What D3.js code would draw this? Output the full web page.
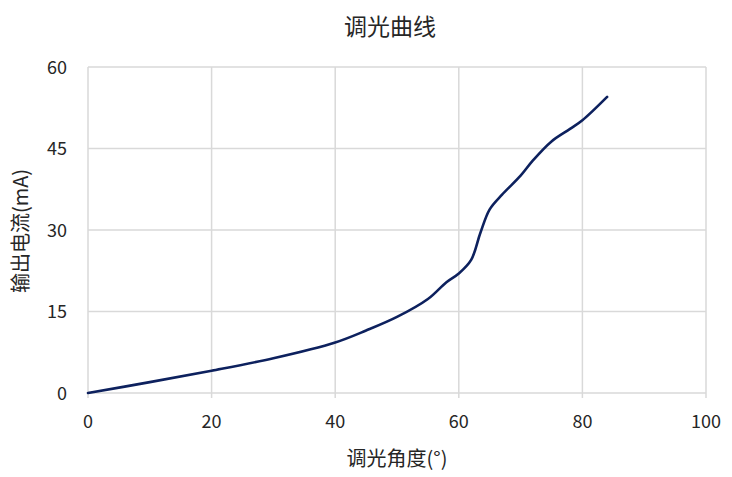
<!DOCTYPE html>
<html><head><meta charset="utf-8">
<script src="https://cdn.jsdelivr.net/npm/d3@7"></script>
<style>body{margin:0;background:#fff}svg{display:block}text{font-family:"Noto Sans CJK SC","Noto Sans",sans-serif;fill:#262626}</style>
</head><body>
<svg id="c" width="732" height="477"></svg>
<script>
const angles = [0, 10, 20, 30, 40, 45, 50, 55, 58, 60, 62, 63.5, 65, 67, 70, 72, 75, 78, 80, 84];
const currents = [0, 2.0, 4.1, 6.4, 9.3, 11.5, 14.0, 17.3, 20.4, 22.0, 24.5, 29.5, 33.8, 36.5, 40.0, 42.8, 46.3, 48.6, 50.2, 54.5];
const xTicks = [0, 20, 40, 60, 80, 100];
const yTicks = [0, 15, 30, 45, 60];
const title = "调光曲线";
const xTitle = "调光角度(°)";
const yTitle = "输出电流(mA)";

const svg = d3.select("#c");
const L = 88, R = 706, T = 67, B = 393;
const x = d3.scaleLinear().domain([0, 100]).range([L, R]);
const y = d3.scaleLinear().domain([0, 60]).range([B, T]);

const g = svg.append("g");
g.selectAll(".vg").data(xTicks).enter().append("line")
  .attr("x1", d => x(d)).attr("x2", d => x(d)).attr("y1", T).attr("y2", B + 5)
  .attr("stroke", "#d9d9d9").attr("stroke-width", 1.5);
g.selectAll(".hg").data(yTicks).enter().append("line")
  .attr("x1", L).attr("x2", R).attr("y1", d => y(d)).attr("y2", d => y(d))
  .attr("stroke", "#d9d9d9").attr("stroke-width", 1.5);

g.selectAll(".xt").data(xTicks).enter().append("text")
  .attr("x", d => x(d)).attr("y", 428).attr("text-anchor", "middle")
  .attr("font-size", 18).text(d => d);
g.selectAll(".yt").data(yTicks).enter().append("text")
  .attr("x", 67).attr("y", d => y(d) + 6.5).attr("text-anchor", "end")
  .attr("font-size", 18).text(d => d);

const pts = angles.map((a, i) => [a, currents[i]]);
const line = d3.line().x(d => x(d[0])).y(d => y(d[1])).curve(d3.curveCatmullRom.alpha(0.5));
g.append("path").datum(pts).attr("d", line).attr("fill", "none")
  .attr("stroke", "#0d215e").attr("stroke-width", 2.6).attr("stroke-linecap", "round");

svg.append("text").attr("x", 390).attr("y", 35).attr("text-anchor", "middle")
  .attr("font-size", 23).text(title);
svg.append("text").attr("x", 397).attr("y", 466).attr("text-anchor", "middle")
  .attr("font-size", 20).text(xTitle);
svg.append("text").attr("transform", "translate(28,231) rotate(-90)").attr("text-anchor", "middle")
  .attr("font-size", 20).text(yTitle);
</script>
</body></html>
